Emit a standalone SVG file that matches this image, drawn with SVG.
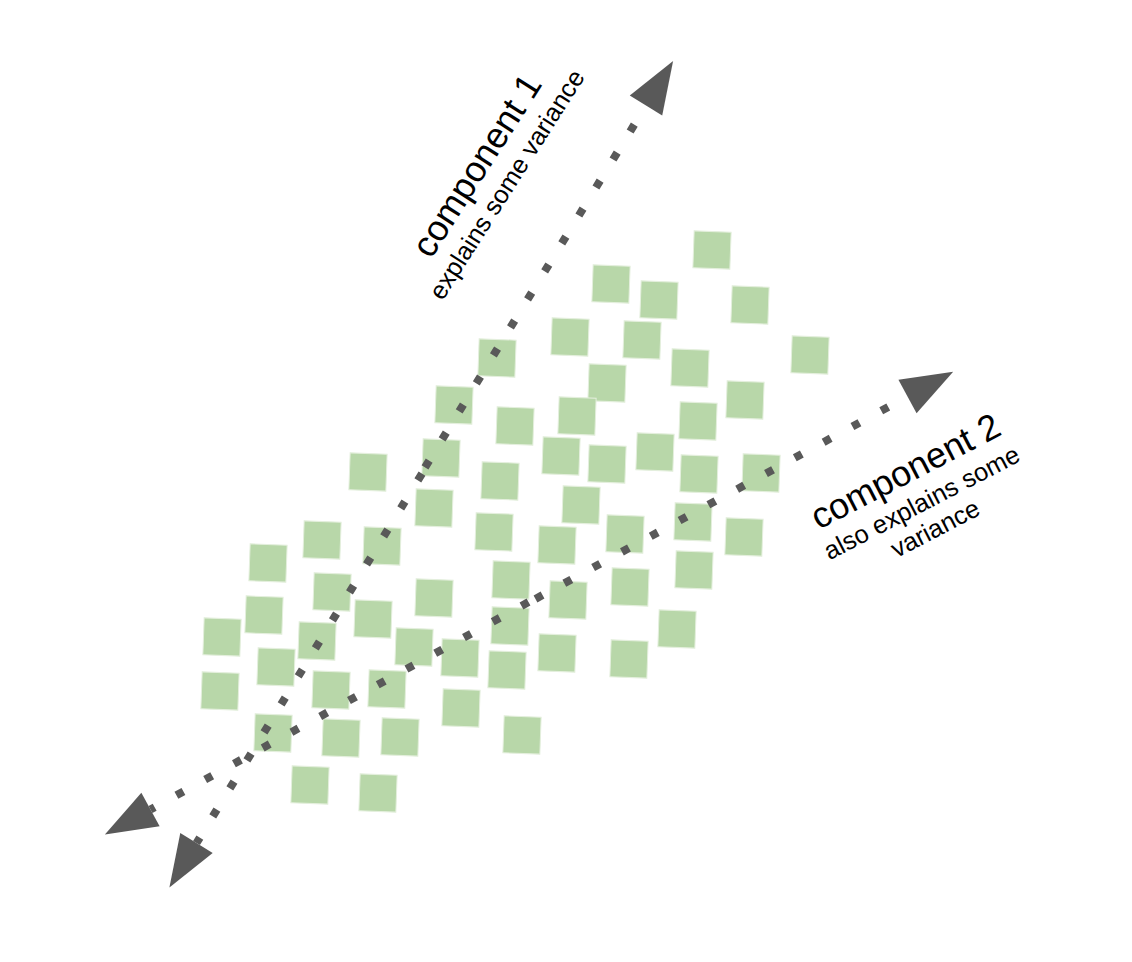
<svg xmlns="http://www.w3.org/2000/svg" width="1132" height="962" viewBox="0 0 1132 962">
<style>
.pt{fill:#b8d7a9;stroke:#e4efdd;stroke-width:1}
.ax{fill:none;stroke:#595959;stroke-width:8;stroke-dasharray:8 24.8;stroke-linecap:butt;marker-end:url(#ah)}
.big{font-family:"Liberation Sans",Arial,sans-serif;font-size:36px;fill:#000;text-anchor:middle}
.small{font-family:"Liberation Sans",Arial,sans-serif;font-size:25.5px;fill:#000;text-anchor:middle}
</style>
<defs>
<marker id="ah" markerUnits="userSpaceOnUse" markerWidth="54" markerHeight="40" refX="0" refY="20" orient="auto" overflow="visible">
<path d="M0,1 L52,20 L0,39 Z" fill="#595959"/>
</marker>
<rect id="sq" x="-18.5" y="-18.5" width="37" height="37"/>
</defs>
<rect width="1132" height="962" fill="#fff"/>
<g id="points">
<use href="#sq" class="pt" transform="translate(712,250) rotate(2)"/>
<use href="#sq" class="pt" transform="translate(611,284) rotate(2)"/>
<use href="#sq" class="pt" transform="translate(659,300) rotate(2)"/>
<use href="#sq" class="pt" transform="translate(750,305) rotate(2)"/>
<use href="#sq" class="pt" transform="translate(570,337) rotate(2)"/>
<use href="#sq" class="pt" transform="translate(642,340) rotate(2)"/>
<use href="#sq" class="pt" transform="translate(810,355) rotate(2)"/>
<use href="#sq" class="pt" transform="translate(497,358) rotate(2)"/>
<use href="#sq" class="pt" transform="translate(690,368) rotate(2)"/>
<use href="#sq" class="pt" transform="translate(607,383) rotate(2)"/>
<use href="#sq" class="pt" transform="translate(454,405) rotate(2)"/>
<use href="#sq" class="pt" transform="translate(745,400) rotate(2)"/>
<use href="#sq" class="pt" transform="translate(515,426) rotate(2)"/>
<use href="#sq" class="pt" transform="translate(577,416) rotate(2)"/>
<use href="#sq" class="pt" transform="translate(698,421) rotate(2)"/>
<use href="#sq" class="pt" transform="translate(441,458) rotate(2)"/>
<use href="#sq" class="pt" transform="translate(561,456) rotate(2)"/>
<use href="#sq" class="pt" transform="translate(655,452) rotate(2)"/>
<use href="#sq" class="pt" transform="translate(607,464) rotate(2)"/>
<use href="#sq" class="pt" transform="translate(368,472) rotate(2)"/>
<use href="#sq" class="pt" transform="translate(699,474) rotate(2)"/>
<use href="#sq" class="pt" transform="translate(761,473) rotate(2)"/>
<use href="#sq" class="pt" transform="translate(500,481) rotate(2)"/>
<use href="#sq" class="pt" transform="translate(434,508) rotate(2)"/>
<use href="#sq" class="pt" transform="translate(581,505) rotate(2)"/>
<use href="#sq" class="pt" transform="translate(494,532) rotate(2)"/>
<use href="#sq" class="pt" transform="translate(625,534) rotate(2)"/>
<use href="#sq" class="pt" transform="translate(693,522) rotate(2)"/>
<use href="#sq" class="pt" transform="translate(744,537) rotate(2)"/>
<use href="#sq" class="pt" transform="translate(322,540) rotate(2)"/>
<use href="#sq" class="pt" transform="translate(382,546) rotate(2)"/>
<use href="#sq" class="pt" transform="translate(557,545) rotate(2)"/>
<use href="#sq" class="pt" transform="translate(268,563) rotate(2)"/>
<use href="#sq" class="pt" transform="translate(511,580) rotate(2)"/>
<use href="#sq" class="pt" transform="translate(694,570) rotate(2)"/>
<use href="#sq" class="pt" transform="translate(332,592) rotate(2)"/>
<use href="#sq" class="pt" transform="translate(630,587) rotate(2)"/>
<use href="#sq" class="pt" transform="translate(434,598) rotate(2)"/>
<use href="#sq" class="pt" transform="translate(568,600) rotate(2)"/>
<use href="#sq" class="pt" transform="translate(264,615) rotate(2)"/>
<use href="#sq" class="pt" transform="translate(373,619) rotate(2)"/>
<use href="#sq" class="pt" transform="translate(510,626) rotate(2)"/>
<use href="#sq" class="pt" transform="translate(222,637) rotate(2)"/>
<use href="#sq" class="pt" transform="translate(317,641) rotate(2)"/>
<use href="#sq" class="pt" transform="translate(677,629) rotate(2)"/>
<use href="#sq" class="pt" transform="translate(414,647) rotate(2)"/>
<use href="#sq" class="pt" transform="translate(460,658) rotate(2)"/>
<use href="#sq" class="pt" transform="translate(557,653) rotate(2)"/>
<use href="#sq" class="pt" transform="translate(629,659) rotate(2)"/>
<use href="#sq" class="pt" transform="translate(276,667) rotate(2)"/>
<use href="#sq" class="pt" transform="translate(507,670) rotate(2)"/>
<use href="#sq" class="pt" transform="translate(220,691) rotate(2)"/>
<use href="#sq" class="pt" transform="translate(331,690) rotate(2)"/>
<use href="#sq" class="pt" transform="translate(387,689) rotate(2)"/>
<use href="#sq" class="pt" transform="translate(461,708) rotate(2)"/>
<use href="#sq" class="pt" transform="translate(273,733) rotate(2)"/>
<use href="#sq" class="pt" transform="translate(341,738) rotate(2)"/>
<use href="#sq" class="pt" transform="translate(400,737) rotate(2)"/>
<use href="#sq" class="pt" transform="translate(522,735) rotate(2)"/>
<use href="#sq" class="pt" transform="translate(310,785) rotate(2)"/>
<use href="#sq" class="pt" transform="translate(378,793) rotate(2)"/>
</g>
<g id="connectors">
<path id="c1-up" class="ax" d="M425,467.4 L646,105.5"/>
<path id="c1-down" class="ax" d="M422,473.6 L196.5,843"/>
<path id="c2-up" class="ax" d="M535.5,598.9 L907.5,396.5"/>
<path id="c2-down" class="ax" d="M528.5,602.1 L150.5,809.5"/>
</g>
<g id="label-component1" transform="translate(487,172) rotate(-57.5)">
<text class="big" x="0" y="0">component 1</text>
<text class="small" x="0" y="32">explains some variance</text>
</g>
<g id="label-component2" transform="translate(911,482) rotate(-27.5)">
<text class="big" x="0" y="0">component 2</text>
<text class="small" x="0" y="32">also explains some</text>
<text class="small" x="0" y="61">variance</text>
</g>
</svg>
